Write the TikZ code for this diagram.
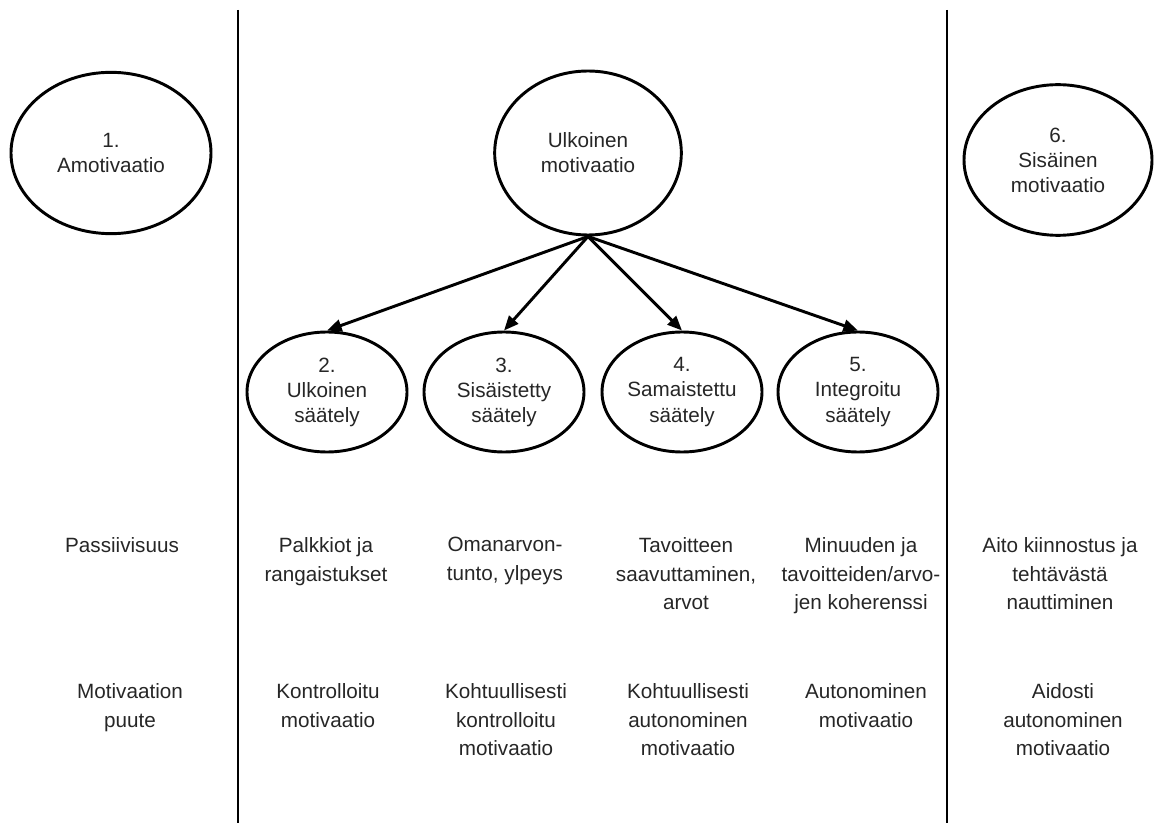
\documentclass[tikz,border=0pt]{standalone}
\usepackage{fontspec}
\setmainfont{Liberation Sans}
\usepackage{tikz}
\usetikzlibrary{shapes.geometric,arrows.meta}

\begin{document}
\begin{tikzpicture}[x=0.75pt,y=0.75pt,yscale=-1,xscale=1,
    oval/.style={draw,ellipse,line width=2.2pt,inner sep=0pt,align=center,
      font=\fontsize{15.5}{18.8}\selectfont,text=black!85},
    lowoval/.style={oval,minimum width=120pt,minimum height=90pt},
    rowtext/.style={anchor=north,inner sep=0pt,align=center,
      font=\fontsize{15.5}{21.6}\selectfont,text=black!85},
    arr/.style={line width=2.2pt,-{Triangle[length=11pt,width=9pt]}}]
        \useasboundingbox (0,0) rectangle (1160,823);

        %Vertical lines
        \draw [line width=2pt] (238,10) -- (238,823);
        \draw [line width=2pt] (947,10) -- (947,823);

        %Top ellipses
        \node [oval,minimum width=150pt,minimum height=121pt] (amot) at (111,153) {1.\\Amotivaatio};
        \node [oval,minimum width=140pt,minimum height=123pt] (ulkmot) at (588,153) {Ulkoinen\\motivaatio};
        \node [oval,minimum width=141pt,minimum height=113pt] (sismot) at (1058,160) {6.\\Sisäinen\\motivaatio};

        %Regulation ellipses
        \node [lowoval] (ulksaat) at (327,392) {2.\\Ulkoinen\\säätely};
        \node [lowoval] (sissaat) at (504,392) {3.\\Sisäistetty\\säätely};
        \node [lowoval] (samsaat) at (682,392) {4.\\Samaistettu\\säätely};
        \node [lowoval] (intsaat) at (858,392) {5.\\Integroitu\\säätely};

        %Arrows
        \draw [arr] (ulkmot.south) -- (ulksaat.north);
        \draw [arr] (ulkmot.south) -- (sissaat.north);
        \draw [arr] (ulkmot.south) -- (samsaat.north);
        \draw [arr] (ulkmot.south) -- (intsaat.north);

        % Text Node
        \node [rowtext] (pass) at (122,537) {Passiivisuus};
        \node [rowtext] (palk) at (326,537) {Palkkiot ja\\rangaistukset};
        \node [rowtext] (oman) at (505,537) {Omanarvon-\\tunto, ylpeys};
        \node [rowtext] (tavo) at (686,537) {Tavoitteen\\saavuttaminen,\\arvot};
        \node [rowtext] (minu) at (861,537) {Minuuden ja\\tavoitteiden/arvo-\\jen koherenssi};
        \node [rowtext] (aito) at (1060,537) {Aito kiinnostus ja\\tehtävästä\\nauttiminen};

        % Text Node
        \node [rowtext] (puute) at (130,683) {Motivaation\\puute};
        \node [rowtext] (kontr) at (328,683) {Kontrolloitu\\motivaatio};
        \node [rowtext] (kohkon) at (506,683) {Kohtuullisesti\\kontrolloitu\\motivaatio};
        \node [rowtext] (kohaut) at (688,683) {Kohtuullisesti\\autonominen\\motivaatio};
        \node [rowtext] (auton) at (866,683) {Autonominen\\motivaatio};
        \node [rowtext] (aidos) at (1063,683) {Aidosti\\autonominen\\motivaatio};

    \end{tikzpicture}
\end{document}
